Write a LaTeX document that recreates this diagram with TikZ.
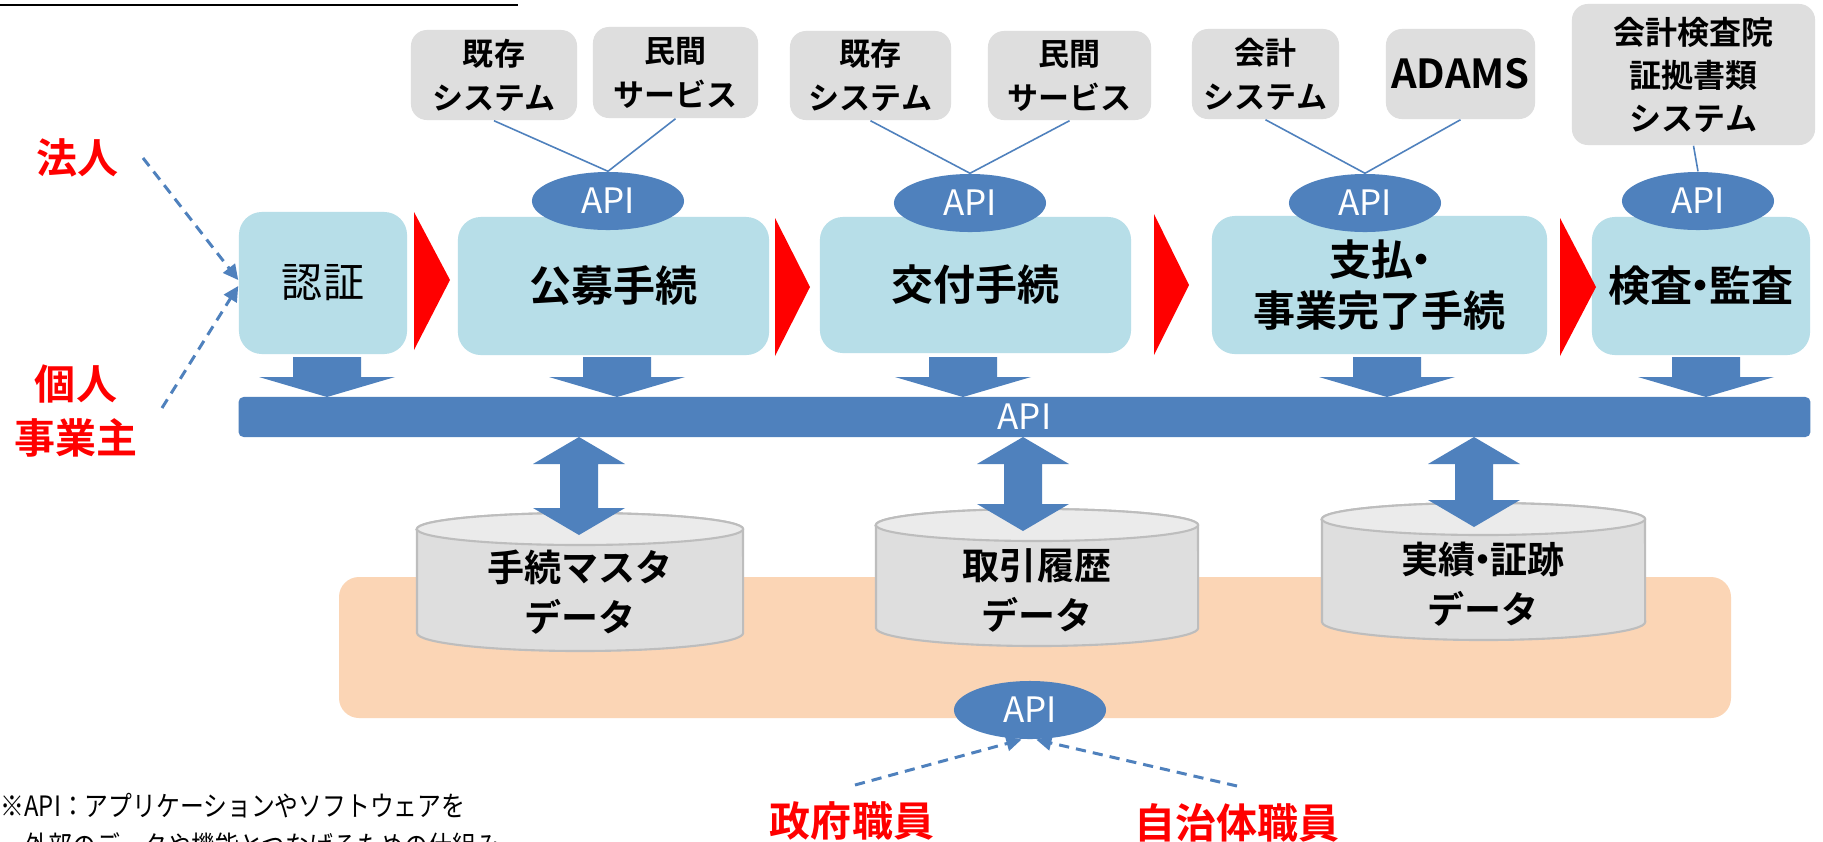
\documentclass[tikz,border=0pt]{standalone}
\usepackage{fontspec}
\setmainfont{Noto Sans CJK JP}[BoldFont={Noto Sans CJK JP Bold}]
\newfontfamily\notefont{Noto Sans CJK JP}[FakeStretch=0.85]
\usetikzlibrary{arrows.meta,shapes.geometric}
\definecolor{procblue}{HTML}{B7DEE8}
\definecolor{apiblue}{HTML}{4F81BD}
\definecolor{boxgray}{HTML}{DEDEDE}
\definecolor{cyltop}{HTML}{EBEBEB}
\definecolor{cylline}{HTML}{BDBDBD}
\definecolor{peach}{HTML}{FBD5B5}
\newcommand\fsz[2]{\fontsize{\dimexpr0.28453pt*#1\relax}{\dimexpr0.28453pt*#2\relax}\selectfont}
\newcommand\ndot{\kern-0.3em・\kern-0.3em}
\newcommand\downblk[2]{\fill[apiblue] (#1-34,#2) -- (#1+34,#2) -- (#1+34,#2+20) -- (#1+68,#2+20) -- (#1,#2+40) -- (#1-68,#2+20) -- (#1-34,#2+20) -- cycle;}
\newcommand\dblblk[3]{\fill[apiblue] (#1,#2) -- (#1+46,#2+27) -- (#1+19,#2+27) -- (#1+19,#3-27) -- (#1+46,#3-27) -- (#1,#3) -- (#1-46,#3-27) -- (#1-19,#3-27) -- (#1-19,#2+27) -- (#1-46,#2+27) -- cycle;}
\newcommand\cyl[6]{% cx, rx(mm), ytop-center, ybot-center, ryt(mm), ryb(mm)
  \filldraw[fill=boxgray, draw=cylline, line width=0.6pt] (#1-#2*10,#3) -- (#1-#2*10,#4) arc[start angle=180,end angle=360,x radius=#2mm,y radius=#6mm] -- (#1+#2*10,#3) arc[start angle=0,end angle=180,x radius=#2mm,y radius=#5mm] -- cycle;
  \filldraw[fill=cyltop, draw=cylline, line width=0.6pt] (#1,#3) ellipse[x radius=#2mm, y radius=#5mm];}
\tikzset{
  graybox/.style={fill=boxgray, rounded corners=1.6mm, align=center, inner sep=0, font={\fsz{31}{44}\bfseries}},
  procbox/.style={fill=procblue, rounded corners=2.3mm, align=center, inner sep=0},
  apiell/.style={ellipse, fill=apiblue, minimum width=15.2mm, minimum height=5.8mm, inner sep=0, text=white, font={\fsz{35}{40}}},
  redlabel/.style={text=red, align=center, font={\fsz{41}{53}\bfseries}},
  cyltext/.style={align=center, font={\fsz{37}{50}\bfseries}},
  dasharr/.style={draw=apiblue, line width=0.85pt, dash pattern=on 2.9pt off 2pt, -{Triangle[length=4.3pt,width=4.2pt]}},
  apiline/.style={draw=apiblue, line width=0.45pt}
}
\begin{document}
\begin{tikzpicture}[x=0.01cm, y=-0.01cm]
\useasboundingbox (0,0) rectangle (1823,842);
\fill[white] (0,0) rectangle (1823,842);
% title underline
\draw[line width=0.6pt] (0,5) -- (518,5);
% peach area
\fill[peach, rounded corners=2mm] (339,577) rectangle (1731,718);
% API bar
\node[fill=apiblue, rounded corners=0.5mm, minimum width=157.1mm, minimum height=4mm, inner sep=0, text=white, font={\fsz{35}{40}}] (bar) at (1024.5,417) {API};
% down arrows
\downblk{327}{357}
\downblk{617}{357}
\downblk{963}{357}
\downblk{1387}{357}
\downblk{1706}{357}
% cylinders
\cyl{580}{16.3}{529}{633}{1.6}{1.8}
\cyl{1037}{16.1}{525}{628}{1.6}{1.8}
\cyl{1483.5}{16.15}{519}{622}{1.6}{1.8}
\node[cyltext] (d1) at (580,592) {手続マスタ\\データ};
\node[cyltext] (d2) at (1037,590) {取引履歴\\データ};
\node[cyltext] (d3) at (1483,584) {実績\ndot 証跡\\データ};
% double arrows
\dblblk{579}{437}{535}
\dblblk{1023}{437}{531}
\dblblk{1474}{437}{527}
% bottom API
\node[apiell] (api5) at (1030,710) {API};
\node[redlabel] (gov) at (852,821) {政府職員};
\node[redlabel] (loc) at (1237,823) {自治体職員};
\coordinate (govs) at (855,785);
\coordinate (locs) at (1237,786);
\draw[dasharr] (govs) -- (api5.-106);
\draw[dasharr] (locs) -- (api5.-78);
% process boxes
\node[procbox, minimum width=16.8mm, minimum height=14.2mm, font={\fsz{41}{44}}] (b1) at (323,283) {認証};
\node[procbox, minimum width=31.1mm, minimum height=13.8mm, font={\fsz{42}{44}\bfseries}] (b2) at (613.5,286) {公募手続};
\node[procbox, minimum width=31.1mm, minimum height=13.6mm, font={\fsz{42}{44}\bfseries}] (b3) at (975.5,285) {交付手続};
\node[procbox, minimum width=33.5mm, minimum height=13.8mm, font={\fsz{42}{51}\bfseries}] (b4) at (1379.5,285) {支払\ndot\\事業完了手続};
\node[procbox, minimum width=21.8mm, minimum height=13.8mm, font={\fsz{42}{44}\bfseries}] (b5) at (1701,286) {検査\ndot 監査};
% red chevrons
\fill[red] (414,212) -- (450,280) -- (414,350) -- cycle;
\fill[red] (775,218) -- (810,287) -- (775,356) -- cycle;
\fill[red] (1154,214) -- (1189,285) -- (1154,355) -- cycle;
\fill[red] (1560,218) -- (1596,287) -- (1560,356) -- cycle;
% left actors
\node[redlabel] (corp) at (78,158) {法人};
\node[redlabel] (indiv) at (76,411) {個人\\事業主};
\coordinate (corps) at (143,158);
\coordinate (indivs) at (162,408);
\draw[dasharr] (corps) -- (b1.178);
\draw[dasharr] (indivs) -- (b1.182);
% API ellipses
\node[apiell] (api1) at (608,201) {API};
\node[apiell] (api2) at (970,203) {API};
\node[apiell] (api3) at (1365,203) {API};
\node[apiell] (api4) at (1698,201) {API};
% gray boxes
\node[graybox, minimum width=16.6mm, minimum height=9mm] (g1) at (494,75) {既存\\システム};
\node[graybox, minimum width=16.5mm, minimum height=9.1mm] (g2) at (675.5,72.5) {民間\\サービス};
\node[graybox, minimum width=16.1mm, minimum height=8.9mm] (g3) at (870.5,75.5) {既存\\システム};
\node[graybox, minimum width=16.3mm, minimum height=8.9mm] (g4) at (1069.5,75.5) {民間\\サービス};
\node[graybox, minimum width=14.7mm, minimum height=9mm] (g5) at (1265.5,74) {会計\\システム};
\node[graybox, minimum width=14.9mm, minimum height=9mm, font={\fsz{40}{44}\bfseries}] (g6) at (1460.5,74) {ADAMS};
\node[graybox, minimum width=24.3mm, minimum height=14.1mm, font={\fsz{32}{43}\bfseries}] (g7) at (1693.5,74.5) {会計検査院\\証拠書類\\システム};
\draw[apiline] (g1.south) -- (api1.north);
\draw[apiline] (g2.south) -- (api1.north);
\draw[apiline] (g3.south) -- (api2.north);
\draw[apiline] (g4.south) -- (api2.north);
\draw[apiline] (g5.south) -- (api3.north);
\draw[apiline] (g6.south) -- (api3.north);
\draw[apiline] (g7.south) -- (api4.north);
% footnote
\node[anchor=west, inner sep=0, font={\notefont\fsz{28}{34}}] (note1) at (0,806) {※API：アプリケーションやソフトウェアを};
\node[anchor=west, inner sep=0, font={\notefont\fsz{28}{34}}] (note2) at (24,846) {外部のデータや機能とつなげるための仕組み};
\end{tikzpicture}
\end{document}
